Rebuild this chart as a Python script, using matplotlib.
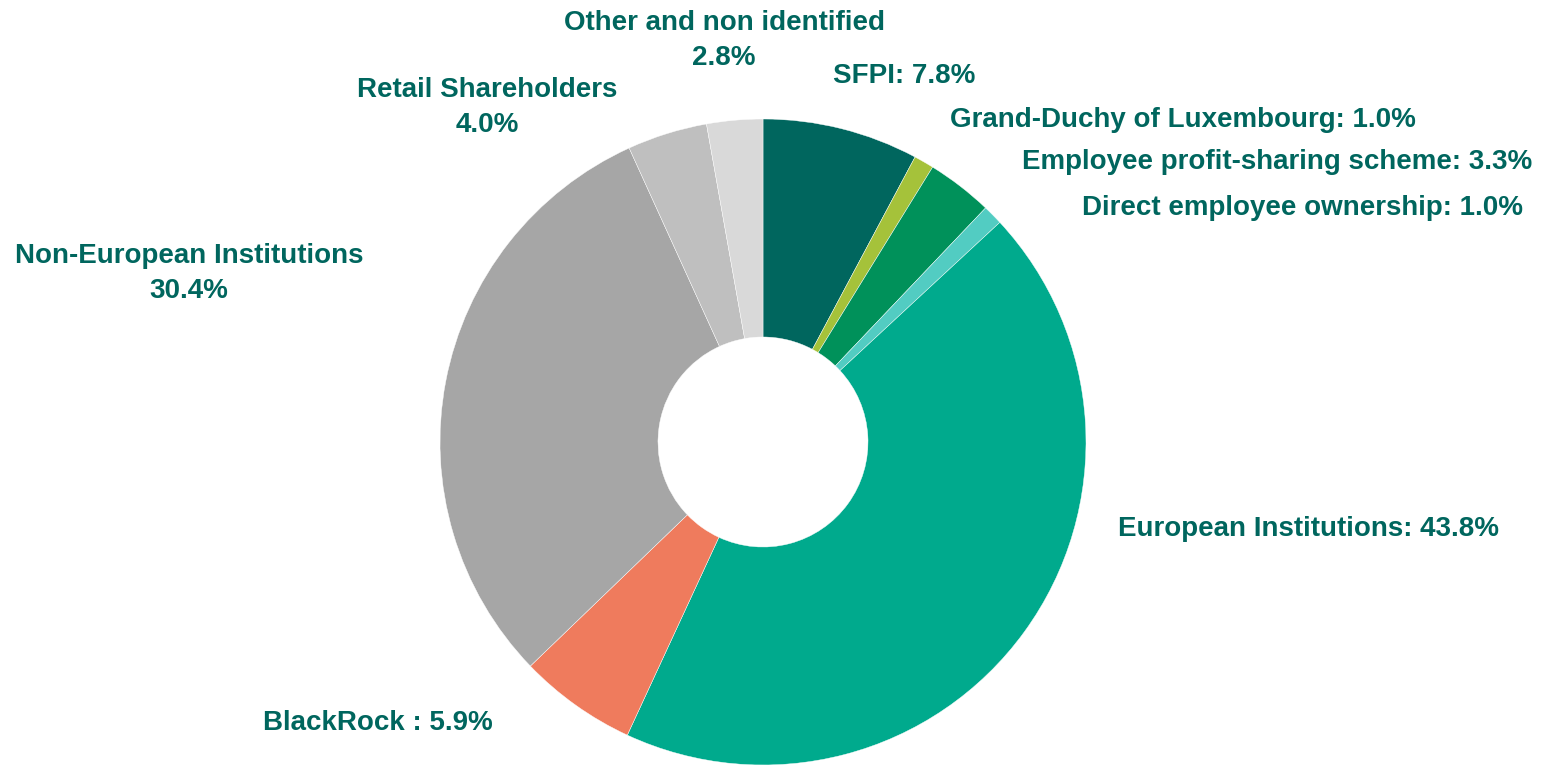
import matplotlib
matplotlib.use("Agg")
import matplotlib.pyplot as plt

# shareholder structure (%), clockwise from 12 o'clock
labels = ["SFPI", "Grand-Duchy of Luxembourg", "Employee profit-sharing scheme",
          "Direct employee ownership", "European Institutions", "BlackRock ",
          "Non-European Institutions", "Retail Shareholders", "Other and non identified"]
shares = [7.8, 1.0, 3.3, 1.0, 43.8, 5.9, 30.4, 4.0, 2.8]
colors = ["#00665E", "#A5C23A", "#00915A", "#52CCC2", "#00AA8D",
          "#EF7B5D", "#A6A6A6", "#BFBFBF", "#D9D9D9"]

# label placement in pixel coords (x, y from top, horizontal alignment, one/two lines)
label_pos = [(833, 76, "left", False), (950, 120, "left", False),
             (1022, 162, "left", False), (1082, 208, "left", False),
             (1118, 529, "left", False), (263, 723, "left", False),
             (189, 256, "center", True), (487, 90, "center", True),
             (724, 23, "center", True)]
line_gap = 35

W, H = 1547, 767
fig = plt.figure(figsize=(W / 100, H / 100), dpi=100)
ax = fig.add_axes([0, 0, 1, 1])
ax.set_xlim(0, W)
ax.set_ylim(0, H)
ax.set_aspect("equal")
ax.axis("off")

ax.pie(shares, colors=colors, startangle=90, counterclock=False,
       center=(763, H - 442), radius=323,
       wedgeprops=dict(width=218, edgecolor="white", linewidth=0.3))
ax.set_xlim(0, W)
ax.set_ylim(0, H)

txt = "#00665E"
kw = dict(va="center", color=txt, fontsize=20, fontweight="bold",
          family="Liberation Sans")
for lab, val, (x, y, ha, two) in zip(labels, shares, label_pos):
    if two:
        ax.text(x, H - y, lab, ha=ha, **kw)
        ax.text(x, H - y - line_gap, f"{val:.1f}%", ha=ha, **kw)
    else:
        ax.text(x, H - y, f"{lab}: {val:.1f}%", ha=ha, **kw)

fig.savefig("out.png", dpi=100)
